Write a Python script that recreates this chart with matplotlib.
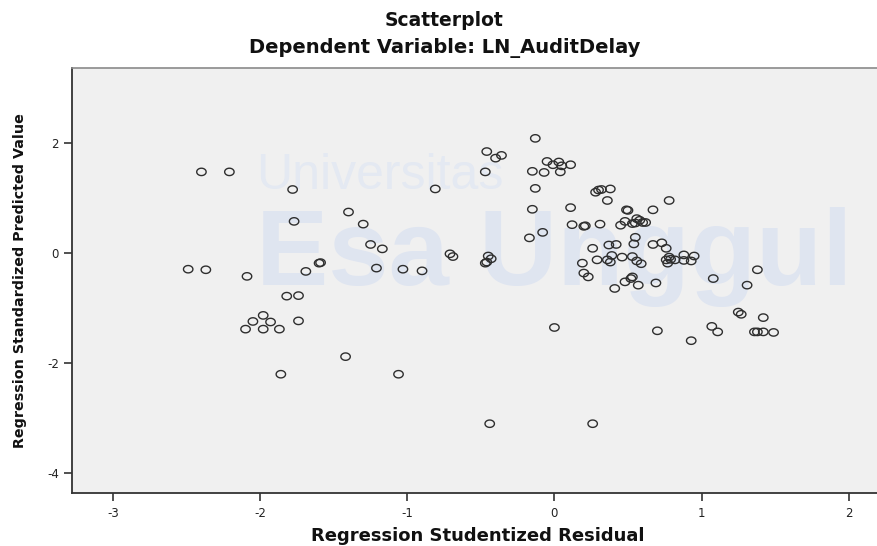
import matplotlib
matplotlib.use("Agg")
import matplotlib.pyplot as plt
from matplotlib.path import Path
import numpy as np

# Regression Studentized Residual (x) and Regression Standardized Predicted Value (y)
resid = [
    -2.40, -2.21, -1.78, -1.77, -2.49, -2.37, -2.09, -1.82, -1.74,
    -2.10, -2.05, -1.98, -1.98, -1.93, -1.87, -1.74, -1.86,
    -1.69, -1.60, -1.59, -1.40, -1.30, -1.25, -1.17, -1.21, -1.03, -0.90,
    -0.81, -0.71, -0.69, -0.45, -0.43, -0.47, -0.46,
    -0.46, -0.40, -0.36, -0.47, -0.13, -0.15, -0.07, -0.05, -0.01, 0.03,
    0.05, 0.04, 0.11, -0.13, -0.15, 0.11, -0.08, -0.17,
    0.12, 0.20, 0.21, 0.31, 0.26, 0.29, 0.19, 0.20, 0.23,
    0.28, 0.30, 0.32, 0.38, 0.36, 0.49, 0.50, 0.67, 0.78,
    0.45, 0.48, 0.53, 0.56, 0.60, 0.62, 0.55, 0.58,
    0.55, 0.54, 0.37, 0.42, 0.67, 0.73, 0.76,
    0.36, 0.38, 0.39, 0.46, 0.53, 0.56, 0.59,
    0.76, 0.79, 0.82, 0.78, 0.88, 0.88, 0.93, 0.95, 0.77,
    0.52, 0.48, 0.53, 0.57, 0.41, 0.69,
    1.08, 1.38, 1.31, 1.25, 1.27, 1.42,
    0.70, 1.07, 1.11, 0.93, 1.36, 1.38, 1.42, 1.49,
    0.00, -1.42, -1.06, -0.44, 0.26,
]
pred = [
    1.48, 1.48, 1.16, 0.58, -0.29, -0.30, -0.42, -0.78, -0.77,
    -1.38, -1.24, -1.13, -1.38, -1.25, -1.38, -1.23, -2.20,
    -0.33, -0.18, -0.17, 0.75, 0.53, 0.16, 0.08, -0.27, -0.29, -0.32,
    1.17, -0.01, -0.06, -0.05, -0.10, -0.18, -0.16,
    1.85, 1.73, 1.78, 1.48, 2.09, 1.49, 1.47, 1.67, 1.61, 1.66,
    1.59, 1.48, 1.61, 1.18, 0.80, 0.83, 0.38, 0.28,
    0.52, 0.49, 0.50, 0.53, 0.09, -0.12, -0.18, -0.36, -0.43,
    1.11, 1.15, 1.16, 1.17, 0.96, 0.79, 0.78, 0.79, 0.96,
    0.51, 0.58, 0.54, 0.63, 0.56, 0.56, 0.55, 0.60,
    0.29, 0.17, 0.15, 0.16, 0.16, 0.19, 0.09,
    -0.12, -0.16, -0.04, -0.07, -0.06, -0.14, -0.19,
    -0.12, -0.11, -0.12, -0.07, -0.03, -0.13, -0.14, -0.05, -0.18,
    -0.46, -0.52, -0.43, -0.58, -0.64, -0.54,
    -0.46, -0.30, -0.58, -1.07, -1.11, -1.17,
    -1.41, -1.33, -1.43, -1.59, -1.43, -1.43, -1.43, -1.44,
    -1.35, -1.88, -2.20, -3.10, -3.10,
]

x_ticks = [-3, -2, -1, 0, 1, 2]
y_ticks = [-4, -2, 0, 2]

plt.rcParams['font.family'] = ['DejaVu Sans']
plt.rcParams['axes.unicode_minus'] = False

# slightly wide open-circle marker (the reference is horizontally stretched)
theta = np.linspace(0, 2 * np.pi, 60)
ellipse = Path(np.column_stack([1.28 * np.cos(theta), np.sin(theta)]), closed=True)

fig = plt.figure(figsize=(8.78, 5.46), dpi=100)
fig.patch.set_facecolor('white')

ax = fig.add_axes([0.082, 0.0971, 0.918, 0.7784])
ax.set_facecolor('#f0f0f0')

# faint watermark behind the points
ax.text(0.228, 0.745, "Universitas", transform=ax.transAxes, fontsize=36,
        family='Liberation Sans', color='#e4e9f2', zorder=1, ha='left', va='center')
ax.text(0.228, 0.555, "Esa Unggul", transform=ax.transAxes, fontsize=78,
        family='Liberation Sans', fontweight='bold', color='#dfe5f0', zorder=1,
        ha='left', va='center')

ax.scatter(resid, pred, s=46, marker=ellipse, facecolors='none',
           edgecolors='#2e2e2e', linewidths=1.0, zorder=3)

ax.set_xlim(-3.28, 2.20)
ax.set_ylim(-4.36, 3.37)
ax.set_xticks(x_ticks)
ax.set_yticks(y_ticks)
ax.tick_params(axis='both', direction='out', length=6, width=1.2, colors='#333333',
               labelsize=8.5, labelcolor='#222222')
ax.tick_params(axis='x', pad=4)

for side in ['left', 'bottom']:
    ax.spines[side].set_color('#333333')
    ax.spines[side].set_linewidth(1.3)
ax.spines['top'].set_color('#8a8a8a')
ax.spines['top'].set_linewidth(1.2)
ax.spines['right'].set_visible(False)

ax.set_xlabel("Regression Studentized Residual", fontsize=13, fontweight='bold',
              color='#111111')
ax.xaxis.set_label_coords(0.503, -0.080)
ax.set_ylabel("Regression Standardized Predicted Value", fontsize=10.3,
              fontweight='bold', color='#111111')
ax.yaxis.set_label_coords(-0.056, 0.5)

fig.text(0.506, 0.963, "Scatterplot", ha='center', va='center', fontsize=13.5,
         fontweight='bold', color='#111111')
fig.text(0.506, 0.913, "Dependent Variable: LN_AuditDelay", ha='center', va='center',
         fontsize=14, fontweight='bold', color='#111111')

fig.savefig("out.png", dpi=100, facecolor='white')
